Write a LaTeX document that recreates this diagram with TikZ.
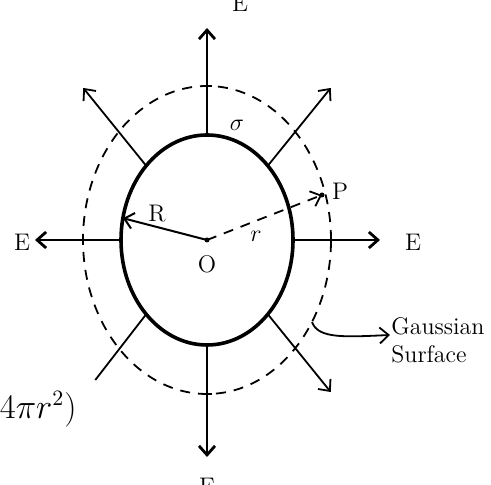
\documentclass[tikz,border=0pt]{standalone}
\usetikzlibrary{arrows.meta, calc}
\begin{document}
\begin{tikzpicture}[x = 0.5pt, y = 0.5pt, every node/.style = {font = \large},
		field/.style = {line width = 1.4pt, -{Straight Barb[length=4.5pt, width=8pt]}},
		diag/.style = {line width = 0.9pt, -{Straight Barb[length=4.5pt, width=8pt]}},
		gauss/.style = {line width = 0.9pt, dash pattern = on 5pt off 4pt},
		tick/.style = {line width = 1.3pt}]
		\useasboundingbox (0,0) rectangle (491,485);
		\coordinate (O) at (207,245);
		\coordinate (P) at (322,290);
		\draw [line width = 1.8pt] (O) ellipse [x radius = 86, y radius = 105];
		\draw [gauss] (O) ellipse [x radius = 124, y radius = 154];
		\draw [field] ($(O)+(0,105)$) coordinate (t1) -- ++(0,107) coordinate (t2);
		\draw [field] ($(O)+(0,-105)$) coordinate (b1) -- ++(0,-112) coordinate (b2);
		\draw [field] ($(O)+(-86,0)$) coordinate (l1) -- ++(-86,0) coordinate (l2);
		\draw [field] ($(O)+(86,0)$) coordinate (r1) -- ++(87,0) coordinate (r2);
		\draw [diag] (O) ++(135:86 and 105) coordinate (ul1) -- ++(135:89 and 110) coordinate (ul2);
		\draw [diag] (O) ++(45:86 and 105) coordinate (ur1) -- ++(45:89 and 110) coordinate (ur2);
		\draw [diag] (O) ++(-45:86 and 105) coordinate (lr1) -- ++(-45:89 and 110) coordinate (lr2);
		\draw [line width = 0.9pt] (O) ++(225:86 and 105) coordinate (ll1) -- ++(225:72 and 93) coordinate (ll2);
		\draw [tick] (O) ++(-5,154) -- ++(10,0);
		\draw [tick] (O) ++(-5,-154) -- ++(10,0);
		\draw [tick] (O) ++(-124,-5) -- ++(0,10);
		\draw [tick] (O) ++(124,-5) -- ++(0,10);
		\draw [line width = 1pt, -{Straight Barb[length=4.5pt, width=8pt]}] (O) -- ++(168:86 and 105) coordinate (Rend);
		\draw [gauss, -{Straight Barb[length=4.5pt, width=8pt]}] (O) -- (P);
		\fill (O) circle (2.5);
		\fill (P) circle (2.5);
		\node (labO) at (207,221) {O};
		\node (labR) at (157,271) {R};
		\node (labr) at (256,249) {$r$};
		\node (labP) at (340,294) {P};
		\node (labs) at (237,360) {$\sigma$};
		\node (El) at (22,243) {E};
		\node (Er) at (413,243) {E};
		\node (Et) [anchor = base] at (240,473) {E};
		\node (Eb) [anchor = north] at (207,14) {E};
		\coordinate (gs) at (312,163);
		\coordinate (ga) at (390,150);
		\node (gtext) [anchor = west, align = left, inner sep = 0pt] at (391,145) {Gaussian\\Surface};
		\draw [line width = 0.9pt, -{Straight Barb[length=4.5pt, width=8pt]}] (gs) .. controls (318,146) and (345,148) .. (ga);
		\node (flux) [anchor = east, inner sep = 0pt, font = \fontsize{16}{18}\selectfont] at (77,76) {$(4\pi r^2)$};
	\end{tikzpicture}
\end{document}
